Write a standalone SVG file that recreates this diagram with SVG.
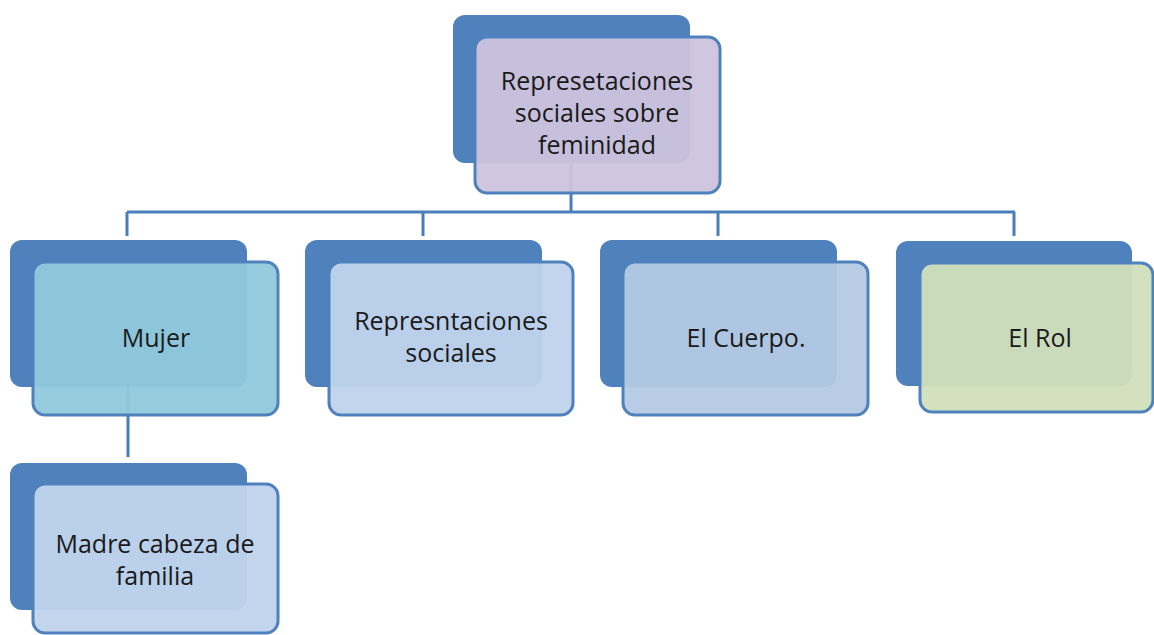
<svg xmlns="http://www.w3.org/2000/svg" width="1154" height="635" viewBox="0 0 1154 635">
<style>
.back{fill:#4F81BD;}
.front{stroke:#4F81BD;stroke-width:3;fill-opacity:0.95;}
.conn{stroke:#4A7EBB;stroke-width:3;fill:none;}
text{font-family:"Open Sans","Liberation Sans",sans-serif;font-size:25px;fill:#1A1A1A;text-anchor:middle;}
</style>
<rect width="1154" height="635" fill="#FFFFFF"/>
<g id="connectors">
<path class="conn" d="M571,163 V212 M127,212 H1015 M127,212 V236 M423,212 V236 M718,212 V236 M1014,212 V236 M128,387 V457"/>
</g>
<g id="node-root">
<rect class="back" x="453" y="15" width="237" height="148" rx="12"/>
<rect class="front" x="475" y="37" width="245" height="156" rx="12" fill="#CDC3DD"/>
<text x="597" y="90">Represetaciones</text>
<text x="597" y="122">sociales sobre</text>
<text x="597" y="154">feminidad</text>
</g>
<g id="node-mujer">
<rect class="back" x="10" y="240" width="237" height="147" rx="12"/>
<rect class="front" x="33" y="262" width="245" height="153" rx="12" fill="#90C9DC"/>
<text x="156" y="347">Mujer</text>
</g>
<g id="node-representaciones">
<rect class="back" x="305" y="240" width="237" height="147" rx="12"/>
<rect class="front" x="329" y="262" width="244" height="153" rx="12" fill="#C0D3EC"/>
<text x="451" y="330">Represntaciones</text>
<text x="451" y="362">sociales</text>
</g>
<g id="node-cuerpo">
<rect class="back" x="600" y="240" width="237" height="147" rx="12"/>
<rect class="front" x="623" y="262" width="245" height="153" rx="12" fill="#B4C9E4"/>
<text x="746" y="347">El Cuerpo.</text>
</g>
<g id="node-rol">
<rect class="back" x="896" y="241" width="236" height="145" rx="12"/>
<rect class="front" x="920" y="263" width="233" height="149" rx="12" fill="#D1DFBC"/>
<text x="1040" y="347">El Rol</text>
</g>
<g id="node-madre">
<rect class="back" x="10" y="463" width="237" height="147" rx="12"/>
<rect class="front" x="33" y="484" width="245" height="149" rx="12" fill="#C0D4ED"/>
<text x="155" y="553">Madre cabeza de</text>
<text x="155" y="585">familia</text>
</g>
</svg>
